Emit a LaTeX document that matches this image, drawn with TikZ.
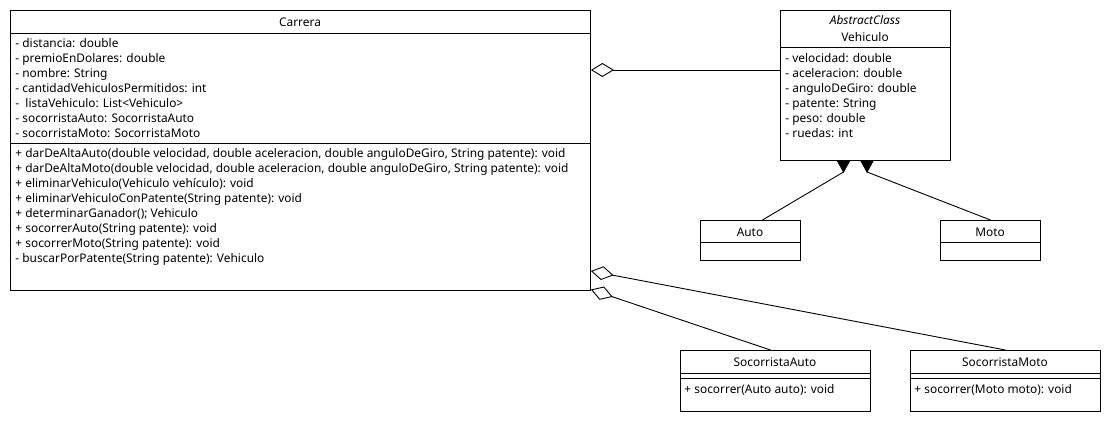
\documentclass[tikz,border=0pt]{standalone}
\usepackage{fontspec}
\setmainfont{Noto Sans}
\usetikzlibrary{arrows.meta}

\begin{document}
\begin{tikzpicture}[
    x=1pt, y=-1pt, line width=0.9pt,
    class/.style={rectangle, draw, anchor=north west, inner sep=0pt, fill=white},
    title/.style={inner sep=0pt, align=center, font=\fontsize{11.9}{15}\selectfont},
    members/.style={anchor=north west, inner sep=0pt, align=left, font=\fontsize{11.9}{15}\selectfont},
    inherit/.style={-{Triangle[reversed, length=12pt, width=13pt]}},
    aggregation/.style={{Diamond[open, length=23pt, width=14pt]}-}
  ]

    \fill[white] (0,0) rectangle (1110,420);
    \useasboundingbox (0,0) rectangle (1110,420);

    % Carrera
    \node[class, minimum width=580pt, minimum height=280pt] (carrera) at (10,10) {};
    \node[title] (carreraTitle) at (300,22) {Carrera};
    \draw (10,33) -- (590,33);
    \node[members] (carreraAttr) at (15,38) {
      - distancia: double\\
      - premioEnDolares: double\\
      - nombre: String\\
      - cantidadVehiculosPermitidos: int\\
      - \ listaVehiculo: List<Vehiculo>\\
      - socorristaAuto: SocorristaAuto\\
      - socorristaMoto: SocorristaMoto
    };
    \draw (10,143) -- (590,143);
    \node[members] (carreraOps) at (15,148) {
      + darDeAltaAuto(double velocidad, double aceleracion, double anguloDeGiro, String patente): void\\
      + darDeAltaMoto(double velocidad, double aceleracion, double anguloDeGiro, String patente): void\\
      + eliminarVehiculo(Vehiculo vehículo): void\\
      + eliminarVehiculoConPatente(String patente): void\\
      + determinarGanador(); Vehiculo\\
      + socorrerAuto(String patente): void\\
      + socorrerMoto(String patente): void\\
      - buscarPorPatente(String patente): Vehiculo
    };

    % Vehiculo
    \node[class, minimum width=170pt, minimum height=150pt] (veh) at (780,10) {};
    \node[title] (vehTitle) at (865,28.5) {\textit{AbstractClass}\\[2pt]Vehiculo};
    \draw (780,47) -- (950,47);
    \node[members] (vehAttr) at (785,53) {
      - velocidad: double\\
      - aceleracion: double\\
      - anguloDeGiro: double\\
      - patente: String\\
      - peso: double\\
      - ruedas: int
    };

    % Auto, Moto
    \node[class, minimum width=100pt, minimum height=40pt] (auto) at (700,220) {};
    \node[title] (autoTitle) at (750,232) {Auto};
    \draw (700,242) -- (800,242);

    \node[class, minimum width=100pt, minimum height=40pt] (moto) at (940,220) {};
    \node[title] (motoTitle) at (990,232) {Moto};
    \draw (940,242) -- (1040,242);

    % SocorristaAuto, SocorristaMoto
    \node[class, minimum width=190pt, minimum height=61pt] (socAuto) at (680,350) {};
    \node[title] (socAutoTitle) at (775,362) {SocorristaAuto};
    \draw (680,373) -- (870,373);
    \draw (680,378) -- (870,378);
    \node[members] (socAutoOps) at (684,384) {+ socorrer(Auto auto): void};

    \node[class, minimum width=190pt, minimum height=61pt] (socMoto) at (910,350) {};
    \node[title] (socMotoTitle) at (1005,362) {SocorristaMoto};
    \draw (910,373) -- (1100,373);
    \draw (910,378) -- (1100,378);
    \node[members] (socMotoOps) at (914,384) {+ socorrer(Moto moto): void};

    % Relations
    \draw[aggregation] (carrera.east |- 0,70) -- (veh.west |- 0,70);
    \draw[aggregation] (carrera.east |- 0,271) -- (socMoto.north);
    \draw[aggregation] (carrera.east |- 0,289.5) -- ([xshift=-5pt]socAuto.north);

    \draw[inherit] ([xshift=12pt]auto.north) -- (843.5,172) -- (veh.south -| 843.5,0);
    \draw[inherit] (moto.north) -- (867,172) -- (veh.south -| 867,0);
  \end{tikzpicture}
\end{document}
